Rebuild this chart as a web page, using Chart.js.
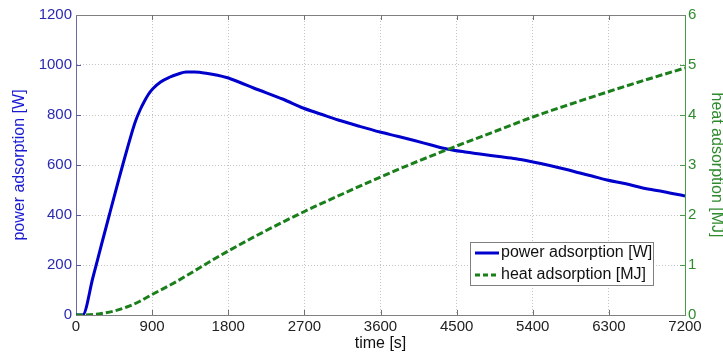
<!DOCTYPE html>
<html>
<head>
<meta charset="utf-8">
<script src="https://cdn.jsdelivr.net/npm/chart.js@4.4.0/dist/chart.umd.min.js"></script>
<style>
    body { margin: 0; background: #fff; }
    #wrap { width: 723px; height: 356px; }
</style>
</head>
<body>
<div id="wrap"><canvas id="chart" width="723" height="356"></canvas></div>
<script>
// Potência de adsorção (tempo em s, potência em W)
const powerTime = [0, 79, 200, 300, 400, 500, 600, 700, 760, 809, 855, 908, 1000, 1105, 1200, 1302, 1400, 1539, 1780, 1940, 2100, 2450, 2684, 2900, 3100, 3350, 3594, 3800, 4000, 4200, 4386, 4600, 4776, 5000, 5200, 5403, 5600, 5800, 5958, 6100, 6278, 6500, 6700, 6950, 7200];
const powerW = [0, 0, 150, 280, 408, 535, 658, 772, 822, 855, 882, 905, 932, 951, 963, 972, 972, 967, 950, 930, 908, 863, 828, 803, 780, 755, 732, 715, 698, 680, 664, 652, 644, 634, 625, 612, 598, 582, 568, 556, 540, 525, 508, 493, 476];

// Calor de adsorção (tempo em s, calor em MJ)
const heatTime = [0, 79, 200, 300, 450, 600, 750, 900, 1125, 1350, 1575, 1800, 2250, 2700, 3150, 3600, 4050, 4500, 4950, 5400, 5850, 6300, 6750, 7200];
const heatMJ = [0, 0, 0.01, 0.03, 0.08, 0.16, 0.27, 0.41, 0.61, 0.83, 1.06, 1.28, 1.69, 2.07, 2.42, 2.76, 3.08, 3.38, 3.67, 3.96, 4.22, 4.47, 4.71, 4.94];

// Marcas dos eixos
const timeTicks = [0, 900, 1800, 2700, 3600, 4500, 5400, 6300, 7200];
const powerTicks = [0, 200, 400, 600, 800, 1000, 1200];
const heatTicks = [0, 1, 2, 3, 4, 5, 6];

const seriesLabels = ['power adsorption [W]', 'heat adsorption [MJ]'];

const BLUE = '#0000cc';
const GREEN = '#1a7f1a';
const FONT = 'Liberation Sans, Arial, Helvetica, sans-serif';

// Moldura, marcas internas e legenda
const framePlugin = {
    id: 'frame',
    afterDatasetsDraw(chart) {
        const { ctx, chartArea: a, scales } = chart;
        ctx.save();

        // borda superior
        ctx.strokeStyle = '#808080';
        ctx.lineWidth = 1;
        ctx.beginPath();
        ctx.moveTo(a.left, a.top + 0.5);
        ctx.lineTo(a.right, a.top + 0.5);
        ctx.stroke();

        // marcas internas
        const len = 5;
        ctx.strokeStyle = '#707070';
        timeTicks.slice(1, -1).forEach(v => {
            const px = Math.round(scales.x.getPixelForValue(v)) + 0.5;
            ctx.beginPath();
            ctx.moveTo(px, a.bottom); ctx.lineTo(px, a.bottom - len);
            ctx.moveTo(px, a.top); ctx.lineTo(px, a.top + len);
            ctx.stroke();
        });
        ctx.strokeStyle = '#5a5a9a';
        powerTicks.slice(1, -1).forEach(v => {
            const py = Math.round(scales.y.getPixelForValue(v)) + 0.5;
            ctx.beginPath();
            ctx.moveTo(a.left, py); ctx.lineTo(a.left + len, py);
            ctx.stroke();
        });
        ctx.strokeStyle = '#4a9a4a';
        heatTicks.slice(1, -1).forEach(v => {
            const py = Math.round(scales.y1.getPixelForValue(v)) + 0.5;
            ctx.beginPath();
            ctx.moveTo(a.right, py); ctx.lineTo(a.right - len, py);
            ctx.stroke();
        });

        // legenda
        const bx = a.right - 215, by = a.bottom - 73, bw = 183, bh = 43;
        ctx.fillStyle = '#fff';
        ctx.fillRect(bx, by, bw, bh);
        ctx.strokeStyle = '#808080';
        ctx.lineWidth = 1;
        ctx.strokeRect(bx + 0.5, by + 0.5, bw, bh);

        const rows = [by + 11, by + 33];
        ctx.lineWidth = 3;
        ctx.strokeStyle = BLUE;
        ctx.setLineDash([]);
        ctx.beginPath(); ctx.moveTo(bx + 5, rows[0]); ctx.lineTo(bx + 29, rows[0]); ctx.stroke();
        ctx.strokeStyle = GREEN;
        ctx.setLineDash([5, 3]);
        ctx.beginPath(); ctx.moveTo(bx + 5, rows[1]); ctx.lineTo(bx + 29, rows[1]); ctx.stroke();
        ctx.setLineDash([]);

        ctx.fillStyle = '#111';
        ctx.font = '16px ' + FONT;
        ctx.textBaseline = 'middle';
        ctx.textAlign = 'left';
        ctx.fillText(seriesLabels[0], bx + 31, rows[0]);
        ctx.fillText(seriesLabels[1], bx + 31, rows[1]);

        ctx.restore();
    }
};

const gridStyle = { color: '#c4c4c4', lineWidth: 1, drawTicks: false };
const plainNumber = value => String(value);

new Chart(document.getElementById('chart'), {
    type: 'line',
    data: {
        datasets: [
            {
                label: seriesLabels[0],
                data: powerTime.map((t, i) => ({ x: t, y: powerW[i] })),
                yAxisID: 'y',
                borderColor: BLUE,
                borderWidth: 3,
                pointRadius: 0,
                cubicInterpolationMode: 'monotone',
                fill: false,
                order: 1
            },
            {
                label: seriesLabels[1],
                data: heatTime.map((t, i) => ({ x: t, y: heatMJ[i] })),
                yAxisID: 'y1',
                borderColor: GREEN,
                borderWidth: 3,
                borderDash: [7, 3],
                pointRadius: 0,
                cubicInterpolationMode: 'monotone',
                fill: false,
                order: 0
            }
        ]
    },
    options: {
        responsive: false,
        animation: false,
        layout: { padding: { top: 15, left: 0, right: 0, bottom: 0 } },
        plugins: {
            legend: { display: false },
            tooltip: { enabled: false }
        },
        scales: {
            x: {
                type: 'linear',
                position: 'bottom',
                min: 0,
                max: 7200,
                afterBuildTicks: s => { s.ticks = timeTicks.map(v => ({ value: v })); },
                afterFit: s => { s.height = 41; },
                ticks: { color: '#222', font: { family: FONT, size: 15 }, padding: 3, maxRotation: 0, autoSkip: false, callback: plainNumber },
                grid: gridStyle,
                border: { color: '#808080', dash: [1, 2] },
                title: { display: true, text: 'time [s]', color: '#111', font: { family: FONT, size: 16 }, padding: { top: 0, bottom: 3 } }
            },
            y: {
                type: 'linear',
                position: 'left',
                min: 0,
                max: 1200,
                afterBuildTicks: s => { s.ticks = powerTicks.map(v => ({ value: v })); },
                afterFit: s => { s.width = 76; },
                ticks: { color: '#2a2ab0', font: { family: FONT, size: 15 }, padding: 4, callback: plainNumber },
                grid: gridStyle,
                border: { color: '#6a6aa8', dash: [1, 2] },
                title: { display: true, text: 'power adsorption [W]', color: '#1a1ad0', font: { family: FONT, size: 16 }, padding: { top: 10, bottom: 0 } }
            },
            y1: {
                type: 'linear',
                position: 'right',
                min: 0,
                max: 6,
                afterBuildTicks: s => { s.ticks = heatTicks.map(v => ({ value: v })); },
                afterFit: s => { s.width = 38; },
                ticks: { color: '#2e8b2e', font: { family: FONT, size: 15 }, padding: 3, callback: plainNumber },
                grid: { display: false, drawTicks: false },
                border: { color: '#4a9a4a' },
                title: { display: true, text: 'heat adsorption [MJ]', color: '#2e8b2e', font: { family: FONT, size: 16 }, padding: { top: -3, bottom: 0 } }
            }
        }
    },
    plugins: [framePlugin]
});
</script>
</body>
</html>
